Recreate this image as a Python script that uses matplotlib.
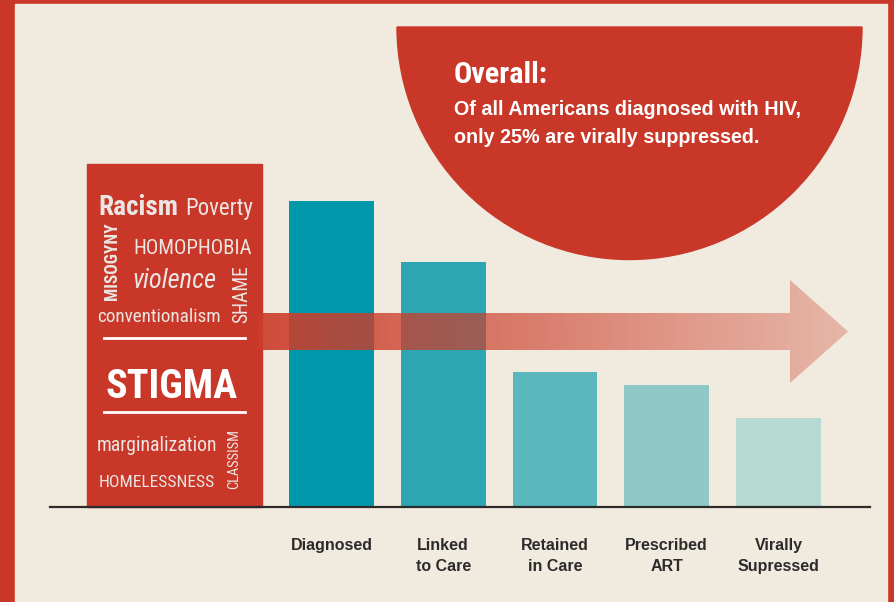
import matplotlib
matplotlib.use("Agg")
import matplotlib.pyplot as plt
import numpy as np
from matplotlib import font_manager
from matplotlib.patches import Rectangle, Wedge, Polygon

# data
stages = ["Diagnosed", "Linked\nto Care", "Retained\nin Care", "Prescribed\nART", "Virally\nSupressed"]
values = [100, 80, 44, 40, 29]   # relative to diagnosed
bar_colors = ["#0097aa", "#2ea5b2", "#5bb7be", "#8ec8c7", "#b6d9d2"]

title = "Overall:"
body = ["Of all Americans diagnosed with HIV,", "only 25% are virally suppressed."]
words = ["Racism", "Poverty", "MISOGYNY", "HOMOPHOBIA", "violence", "SHAME",
         "conventionalism", "STIGMA", "marginalization", "HOMELESSNESS", "CLASSISM"]

RED = "#c83728"
BEIGE = "#f1eade"
WORD = "#ebe6e3"

names = {f.name for f in font_manager.fontManager.ttflist}
narrow = next((n for n in ["Liberation Sans Narrow", "DejaVu Sans Condensed", "Roboto Condensed"]
               if n in names), "Liberation Sans")
plain = "Liberation Sans" if "Liberation Sans" in names else "DejaVu Sans"

fig = plt.figure(figsize=(8.94, 6.02), dpi=100)
renderer = fig.canvas.get_renderer()

bg = fig.add_axes([0, 0, 1, 1], zorder=0)
bg.set_xlim(0, 894)
bg.set_ylim(602, 0)
bg.axis("off")

bg.add_patch(Rectangle((0, 0), 894, 602, color=RED))
bg.add_patch(Rectangle((15, 4), 872, 600, color=BEIGE))
bg.add_patch(Wedge((629.5, 27), 232.5, 0, 180, color=RED))
bg.add_patch(Rectangle((87, 164), 175, 343, color=RED))


def fit(ax, s, x, y, width=None, height=None, size=30, **kw):
    t = ax.text(x, y, s, fontsize=size, **kw)
    bb = t.get_window_extent(renderer)
    k = width / bb.width if width else height / bb.height
    t.set_fontsize(size * k)
    return t


# word block
layout = {
    "Racism": (138.5, 215, 80, "bold", "normal", 0),
    "Poverty": (219.5, 215, 68, "normal", "normal", 0),
    "MISOGYNY": (112, 261, 78, "bold", "normal", 90),
    "HOMOPHOBIA": (193, 254, 119, "normal", "normal", 0),
    "violence": (174.5, 288, 84, "normal", "italic", 0),
    "SHAME": (242, 294.5, 58, "normal", "normal", 90),
    "conventionalism": (158.5, 322, 124, "normal", "normal", 0),
    "STIGMA": (172, 398, 132, "bold", "normal", 0),
    "marginalization": (157, 451, 121, "normal", "normal", 0),
    "HOMELESSNESS": (157, 487, 116, "normal", "normal", 0),
    "CLASSISM": (234, 459, 60, "normal", "normal", 90),
}
for w in words:
    x, y, size, weight, style, rot = layout[w]
    col = "white" if w == "STIGMA" else WORD
    if rot:
        fit(bg, w, x, y, height=size, rotation=90, ha="center", va="center",
            family=narrow, fontweight=weight, color=col)
    else:
        fit(bg, w, x, y, width=size, ha="center", va="baseline",
            family=narrow, fontweight=weight, fontstyle=style, color=col)
bg.plot([104, 245], [338, 338], color="white", lw=2)
bg.plot([104, 245], [412, 412], color="white", lw=2)

# overall text
fit(bg, title, 454, 83, width=94, family=narrow, fontweight="bold", color="white",
    ha="left", va="baseline")
t = fit(bg, body[0], 454, 115, width=346, family=plain, fontweight="bold", color="white",
        ha="left", va="baseline")
bg.text(454, 143, body[1], fontsize=t.get_fontsize(), family=plain, fontweight="bold",
        color="white", ha="left", va="baseline")

# bars
ax = fig.add_axes([50 / 894, 95 / 602, 820 / 894, 342.7 / 602], zorder=1)
ax.patch.set_alpha(0)
x = np.arange(len(stages))
ax.bar(x, values, width=0.76, color=bar_colors)
ax.set_xlim(-2.519, 4.819)
ax.set_ylim(0, 112)
for s in ["top", "right", "left"]:
    ax.spines[s].set_visible(False)
ax.spines["bottom"].set_color("#2b2b2b")
ax.spines["bottom"].set_linewidth(1.6)
ax.set_yticks([])
ax.set_xticks(x)
ax.set_xticklabels(stages, fontsize=11.5, fontweight="bold", family=plain,
                   color="#2b2b2b", linespacing=1.55)
ax.tick_params(axis="x", length=0, pad=22)

# gradient arrow on top
top = fig.add_axes([0, 0, 1, 1], zorder=2)
top.set_xlim(0, 894)
top.set_ylim(602, 0)
top.axis("off")
arrow = Polygon([(258, 313), (790, 313), (790, 280), (848, 331.5), (790, 383),
                 (790, 350), (258, 350)], closed=True, facecolor="none", edgecolor="none")
top.add_patch(arrow)
n = 256
grad = np.zeros((1, n, 4))
grad[..., 0] = 0.80
grad[..., 1] = 0.24
grad[..., 2] = 0.17
grad[..., 3] = np.linspace(0.92, 0.3, n)
im = top.imshow(grad, extent=[258, 848, 383, 280], aspect="auto", interpolation="bilinear")
im.set_clip_path(arrow)
top.set_xlim(0, 894)
top.set_ylim(602, 0)

fig.savefig("out.png", dpi=100)
